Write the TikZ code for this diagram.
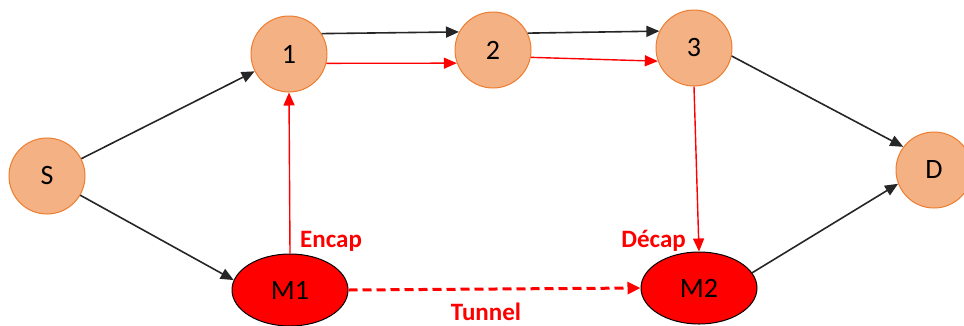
\documentclass[tikz,border=0pt]{standalone}
\usepackage{fontspec}
\setmainfont{Carlito}
\usetikzlibrary{arrows.meta,shapes.geometric}
\definecolor{peach}{HTML}{F4B183}
\definecolor{peachline}{HTML}{ED7D31}
\definecolor{tunred}{HTML}{FF0000}
\begin{document}
\begin{tikzpicture}[x=1pt,y=-1pt,
  router/.style={circle,draw=peachline,line width=1pt,fill=peach,minimum size=76pt,inner sep=0pt,
    font=\fontsize{28}{28}\selectfont},
  mbox/.style={ellipse,draw=black,line width=1pt,fill=tunred,minimum width=116pt,minimum height=72pt,inner sep=0pt,
    font=\fontsize{28}{28}\selectfont},
  tip/.style={-{Triangle[length=13pt,width=11pt]}},
  blk/.style={tip,draw=black!85,line width=1.6pt},
  rd/.style={tip,draw=tunred,line width=1.4pt},
  tun/.style={-{Triangle[length=13pt,width=12pt]},draw=tunred,line width=3pt,dash pattern=on 9pt off 5pt},
  lab/.style={text=tunred,font=\bfseries\fontsize{25}{25}\selectfont,inner sep=0pt}]
\useasboundingbox (0,0) rectangle (964,325);
% nodes
\node[router] (S) at (47,176) {S};
\node[router] (n1) at (289,54) {1};
\node[router] (n2) at (493,50) {2};
\node[router] (n3) at (694,48) {3};
\node[router] (D) at (934,170) {D};
\node[mbox] (M1) at (290,290) {M1};
\node[mbox] (M2) at (699,288) {M2};
% normal path
\draw[blk] (S) -- (n1);
\draw[blk] (S.-30) -- (M1.170);
\draw[blk] (n1.32) -- (n2.152);
\draw[blk] (n2.26) -- (n3.154);
\draw[blk] (n3.-12) -- (D.143);
\draw[blk] (M2.16) -- (D.201);
% path through the tunnel
\draw[rd] (n1.-14) -- (n2.200);
\draw[rd] (n2.-11) -- (n3.200);
\draw[rd] (M1.north) -- (n1.south);
\draw[rd] (n3.south) -- (M2.north);
\draw[tun] (M1.east) -- (M2.west);
% labels
\node[lab,anchor=west] (enc) at (300,241) {Encap};
\node[lab,anchor=east] (dec) at (686,241) {Décap};
\node[lab] (tunl) at (486,312) {Tunnel};
\end{tikzpicture}
\end{document}
